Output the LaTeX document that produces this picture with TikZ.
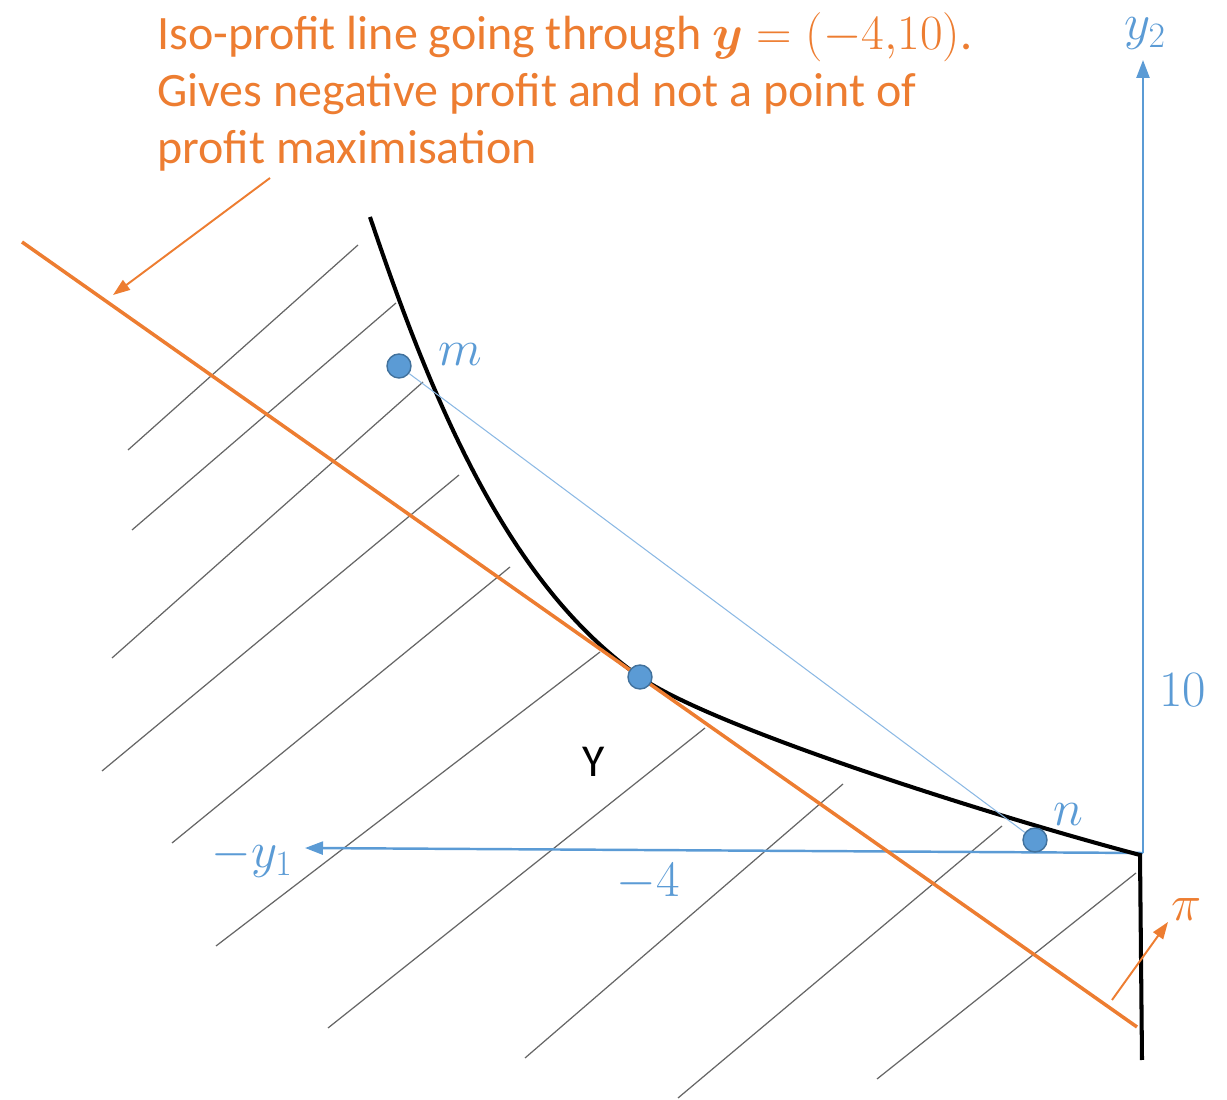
\RequirePackage{fix-cm}
\documentclass[tikz,border=0pt]{standalone}
\usepackage{amsmath}
\usepackage[no-math]{fontspec}
\setmainfont{Carlito}
\usetikzlibrary{arrows.meta}
\definecolor{turuncu}{RGB}{237,125,49}
\definecolor{mavi}{RGB}{91,155,213}
\definecolor{koyumavi}{RGB}{65,113,156}
\definecolor{acikmavi}{RGB}{140,185,228}
\tikzset{
  hatch/.style={black!60, line width=0.7pt},
  eksen/.style={mavi, line width=1.4pt, -{Triangle[length=0.36cm,width=0.26cm]}},
  sinir/.style={black, line width=2.3pt},
  nokta/.style={circle, fill=mavi, draw=koyumavi, line width=0.8pt, minimum size=0.48cm, inner sep=0pt},
  etiket/.style={mavi, inner sep=0pt, font=\fontsize{29}{35}\selectfont}
}
\begin{document}
\begin{tikzpicture}[font=\fontsize{26}{31}\selectfont]
  \useasboundingbox (0,0) rectangle (24.54,22);
  % taranan bolge
  \draw[hatch] (2.56,13.0) -- (7.16,17.1)
    (2.64,11.4) -- (7.92,15.94)
    (2.24,8.84) -- (8.46,14.36)
    (2.04,6.58) -- (9.18,12.5)
    (3.44,5.14) -- (10.2,10.66)
    (4.32,3.08) -- (12.0,8.96)
    (6.56,1.44) -- (14.1,7.44)
    (10.5,0.84) -- (16.86,6.32)
    (13.56,0.04) -- (20.04,5.48)
    (17.54,0.42) -- (22.72,4.54);
  % eksenler
  \coordinate (O) at (22.86,4.94);
  \coordinate (ust) at (22.86,20.8);
  \coordinate (sol) at (6.1,5.04);
  \draw[eksen] (O) -- (ust);
  \draw[eksen] (O) -- (sol);
  \node[etiket] (y2) at (22.9,21.32) {$y_2$};
  \node[etiket] (y1) at (5.04,4.84) {$-y_1$};
  \node[etiket] (eksi4) at (12.96,4.36) {$-4$};
  \node[etiket] (on) at (23.66,8.2) {$10$};
  % uretim kumesinin siniri
  \coordinate (bas) at (7.4,17.66);
  \coordinate (T) at (12.8,8.46);
  \coordinate (C) at (22.8,4.9);
  \coordinate (alt) at (22.84,0.8);
  \draw[sinir] (bas) .. controls (8.7,13.8) and (10.2,10.29) .. (T)
    .. controls (14.2,7.48) and (19.6,5.75) .. (C) -- (alt);
  \node (Y) at (11.88,6.76) {Y};
  % es-kar dogrusu
  \coordinate (k1) at (0.44,17.16);
  \coordinate (k2) at (22.74,1.46);
  \draw[turuncu, line width=2pt] (k1) -- (k2);
  % noktalar
  \node[nokta] (m) at (7.98,14.68) {};
  \node[nokta] (n) at (20.7,5.2) {};
  \node[nokta] (t) at (T) {};
  \draw[acikmavi, line width=0.6pt] (m) -- (n);
  \node[etiket] (mlab) at (9.2,14.9) {$m$};
  \node[etiket] (nlab) at (21.36,5.7) {$n$};
  % aciklama
  \node[turuncu, anchor=north west, align=left, inner sep=0pt,
    font=\fontsize{27.3}{32.4}\selectfont] (not) at (3.14,21.76)
    {Iso-profit line going through {\fontsize{28}{32.4}\selectfont$\boldsymbol{y}=(-4{,}10)$}.\\
     Gives negative profit and not a point of\\
     profit maximisation};
  \coordinate (ok1) at (5.4,18.44);
  \coordinate (ok2) at (2.26,16.1);
  \draw[turuncu, line width=1.1pt, -{Triangle[length=0.34cm,width=0.24cm]}] (ok1) -- (ok2);
  \coordinate (pi1) at (22.24,2.0);
  \coordinate (pi2) at (23.36,3.56);
  \draw[turuncu, line width=1.1pt, -{Triangle[length=0.34cm,width=0.24cm]}] (pi1) -- (pi2);
  \node[etiket, turuncu] (pilab) at (23.74,3.8) {$\pi$};
\end{tikzpicture}
\end{document}
